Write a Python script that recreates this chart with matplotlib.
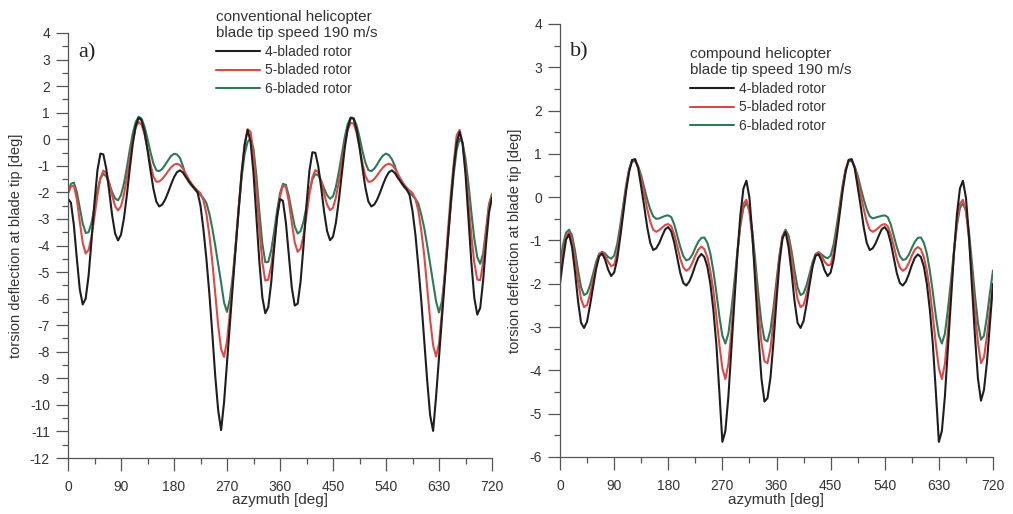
import numpy as np
import matplotlib
matplotlib.use("Agg")
import matplotlib.pyplot as plt
from matplotlib.ticker import MultipleLocator

plt.rcParams['font.family'] = ['Liberation Sans', 'DejaVu Sans']
plt.rcParams['axes.unicode_minus'] = False

# ---------------- data ----------------
azimuth = np.arange(0, 721, 5)          # deg, 0..720 step 5
rotor_labels = ["4-bladed rotor", "5-bladed rotor", "6-bladed rotor"]
panel_titles = ["conventional helicopter\nblade tip speed 190 m/s",
                "compound helicopter\nblade tip speed 190 m/s"]
panel_tags = ["a)", "b)"]
x_ticks = list(range(0, 721, 90))
y_ticks_a = list(range(-12, 5))
y_ticks_b = list(range(-6, 5))
x_label = "azymuth [deg]"
y_label = "torsion deflection at blade tip [deg]"

# a) conventional helicopter
conv_4 = [
    -2.24, -2.39, -3.24, -4.49, -5.65, -6.22, -6.0, -5.13, -3.79, -2.36,
    -1.17, -0.54, -0.57, -1.11, -1.96, -2.87, -3.55, -3.81, -3.59, -2.98,
    -2.09, -1.09, -0.17, 0.51, 0.81, 0.71, 0.27, -0.40, -1.16, -1.86,
    -2.35, -2.53, -2.46, -2.27, -2.0, -1.70, -1.43, -1.24, -1.17, -1.25,
    -1.42, -1.58, -1.72, -1.85, -2.0, -2.5, -3.4, -4.5, -5.8, -7.3,
    -8.9, -10.2, -10.95, -9.9, -8.4, -6.9, -5.45, -4.0, -2.6, -1.25,
    -0.2, 0.35, -0.09, -1.28, -2.94, -4.63, -5.95, -6.55, -6.33, -5.41,
    -4.12, -2.93, -2.25, -2.32, -3.14, -4.38, -5.58, -6.26, -6.19, -5.35,
    -3.99, -2.46, -1.18, -0.49, -0.51, -1.02, -1.84, -2.74, -3.46, -3.80,
    -3.67, -3.13, -2.28, -1.29, -0.32, 0.42, 0.80, 0.77, 0.37, -0.29,
    -1.08, -1.82, -2.34, -2.53, -2.46, -2.27, -2.0, -1.70, -1.43, -1.24,
    -1.17, -1.27, -1.45, -1.6, -1.75, -1.88, -2.1, -2.7, -3.6, -4.8,
    -6.1, -7.6, -9.1, -10.4, -10.98, -9.7, -8.2, -6.7, -5.25, -3.8,
    -2.4, -1.1, -0.15, 0.28, -0.15, -1.3, -2.95, -4.65, -5.98, -6.6,
    -6.35, -5.3, -3.91, -2.75, -2.2]
conv_5 = [
    -2.05, -1.78, -1.75, -2.25, -3.1, -3.9, -4.3, -4.17, -3.66, -2.90,
    -2.1, -1.47, -1.18, -1.27, -1.64, -2.12, -2.52, -2.68, -2.52, -2.08,
    -1.44, -0.73, -0.06, 0.43, 0.65, 0.55, 0.18, -0.36, -0.94, -1.40,
    -1.6, -1.59, -1.5, -1.36, -1.2, -1.06, -0.96, -0.92, -0.97, -1.1,
    -1.3, -1.5, -1.68, -1.82, -1.93, -2.03, -2.3, -2.8, -3.6, -4.6,
    -5.8, -7.0, -7.9, -8.19, -7.6, -6.5, -5.3, -3.9, -2.5, -1.2,
    -0.2, 0.38, 0.28, -0.54, -1.88, -3.38, -4.64, -5.32, -5.29, -4.77,
    -3.92, -2.97, -2.17, -1.74, -1.8, -2.34, -3.14, -3.88, -4.24, -4.12,
    -3.61, -2.86, -2.07, -1.44, -1.16, -1.24, -1.59, -2.06, -2.47, -2.67,
    -2.58, -2.19, -1.58, -0.87, -0.18, 0.35, 0.62, 0.59, 0.25, -0.30,
    -0.90, -1.38, -1.6, -1.59, -1.5, -1.36, -1.2, -1.06, -0.96, -0.92,
    -0.97, -1.1, -1.3, -1.5, -1.68, -1.82, -1.93, -2.02, -2.25, -2.7,
    -3.45, -4.4, -5.6, -6.8, -7.75, -8.18, -7.7, -6.5, -5.0, -3.5,
    -2.1, -0.9, 0.15, 0.35, -0.15, -1.12, -2.36, -3.63, -4.66, -5.28,
    -5.31, -4.63, -3.51, -2.5, -2.1]
conv_6 = [
    -2.0, -1.68, -1.63, -1.99, -2.58, -3.17, -3.53, -3.5, -3.14, -2.56,
    -1.94, -1.47, -1.3, -1.4, -1.67, -1.99, -2.23, -2.3, -2.1, -1.67,
    -1.06, -0.39, 0.22, 0.65, 0.85, 0.77, 0.47, 0.02, -0.48, -0.91,
    -1.17, -1.2, -1.12, -0.96, -0.79, -0.63, -0.55, -0.57, -0.7, -1.0,
    -1.38, -1.6, -1.75, -1.88, -2.0, -2.1, -2.22, -2.4, -2.8, -3.35,
    -4.0, -4.7, -5.4, -6.15, -6.5, -6.0, -5.1, -3.9, -2.6, -1.4,
    -0.55, -0.1, 0.03, -0.36, -1.39, -2.74, -3.93, -4.63, -4.62, -4.19,
    -3.49, -2.7, -2.04, -1.68, -1.72, -2.13, -2.73, -3.28, -3.55, -3.46,
    -3.09, -2.55, -1.97, -1.51, -1.31, -1.36, -1.57, -1.86, -2.11, -2.24,
    -2.15, -1.79, -1.22, -0.56, 0.08, 0.57, 0.82, 0.8, 0.53, 0.08,
    -0.44, -0.88, -1.16, -1.2, -1.11, -0.95, -0.76, -0.61, -0.54, -0.6,
    -0.75, -1.0, -1.35, -1.6, -1.78, -1.9, -2.02, -2.12, -2.25, -2.43,
    -2.85, -3.35, -4.0, -4.7, -5.4, -6.1, -6.52, -6.1, -5.1, -3.8,
    -2.5, -1.3, -0.4, 0.02, -0.13, -0.74, -1.68, -2.76, -3.75, -4.44,
    -4.69, -4.3, -3.37, -2.44, -2.05]

# b) compound helicopter
comp_4 = [
    -2.0, -1.45, -0.98, -0.86, -1.15, -1.73, -2.4, -2.9, -3.02, -2.87,
    -2.49, -2.07, -1.66, -1.37, -1.3, -1.44, -1.67, -1.82, -1.74, -1.44,
    -0.94, -0.4, 0.15, 0.59, 0.86, 0.88, 0.67, 0.24, -0.21, -0.69,
    -1.05, -1.22, -1.18, -1.06, -0.89, -0.74, -0.69, -0.79, -1.05, -1.4,
    -1.75, -1.98, -2.04, -1.95, -1.78, -1.57, -1.40, -1.31, -1.38, -1.6,
    -2.0, -2.6, -3.4, -4.5, -5.65, -5.4, -4.6, -3.5, -2.4, -1.3,
    -0.4, 0.2, 0.38, -0.01, -0.89, -2.05, -3.21, -4.19, -4.72, -4.64,
    -4.16, -3.34, -2.38, -1.5, -0.95, -0.8, -1.15, -1.73, -2.4, -2.9,
    -3.02, -2.86, -2.47, -2.02, -1.6, -1.35, -1.32, -1.47, -1.69, -1.82,
    -1.74, -1.44, -0.94, -0.4, 0.15, 0.59, 0.86, 0.88, 0.67, 0.24,
    -0.21, -0.69, -1.05, -1.22, -1.18, -1.06, -0.89, -0.74, -0.69, -0.79,
    -1.05, -1.4, -1.75, -1.98, -2.04, -1.95, -1.78, -1.57, -1.40, -1.32,
    -1.38, -1.6, -2.0, -2.6, -3.4, -4.5, -5.65, -5.4, -4.6, -3.5,
    -2.4, -1.3, -0.4, 0.2, 0.38, -0.01, -0.89, -2.05, -3.21, -4.19,
    -4.7, -4.45, -3.8, -2.9, -2.0]
comp_5 = [
    -1.8, -1.3, -0.92, -0.8, -1.0, -1.42, -1.93, -2.35, -2.54, -2.49,
    -2.24, -1.91, -1.58, -1.33, -1.27, -1.35, -1.49, -1.59, -1.56, -1.29,
    -0.83, -0.31, 0.23, 0.64, 0.86, 0.85, 0.69, 0.42, 0.08, -0.27,
    -0.56, -0.75, -0.8, -0.76, -0.7, -0.64, -0.62, -0.67, -0.86, -1.13,
    -1.42, -1.62, -1.7, -1.65, -1.52, -1.35, -1.21, -1.14, -1.2, -1.38,
    -1.7, -2.15, -2.75, -3.4, -3.95, -4.2, -3.85, -3.1, -2.2, -1.3,
    -0.6, -0.15, -0.06, -0.33, -0.96, -1.78, -2.65, -3.36, -3.79, -3.83,
    -3.49, -2.86, -2.09, -1.39, -0.9, -0.78, -1.0, -1.42, -1.93, -2.35,
    -2.54, -2.49, -2.24, -1.91, -1.58, -1.33, -1.28, -1.36, -1.49, -1.57,
    -1.56, -1.29, -0.83, -0.31, 0.23, 0.64, 0.86, 0.86, 0.69, 0.42,
    0.08, -0.27, -0.56, -0.75, -0.8, -0.76, -0.7, -0.64, -0.62, -0.67,
    -0.86, -1.13, -1.42, -1.62, -1.7, -1.65, -1.52, -1.35, -1.21, -1.15,
    -1.2, -1.38, -1.7, -2.15, -2.75, -3.4, -3.95, -4.2, -3.85, -3.1,
    -2.2, -1.3, -0.6, -0.15, -0.06, -0.33, -0.96, -1.78, -2.65, -3.36,
    -3.83, -3.7, -3.2, -2.6, -2.0]
comp_6 = [
    -1.55, -1.1, -0.82, -0.75, -0.88, -1.24, -1.69, -2.08, -2.26, -2.22,
    -2.03, -1.77, -1.5, -1.31, -1.26, -1.3, -1.38, -1.42, -1.35, -1.09,
    -0.67, -0.19, 0.28, 0.65, 0.83, 0.83, 0.71, 0.5, 0.23, -0.05,
    -0.28, -0.44, -0.5, -0.49, -0.46, -0.43, -0.42, -0.46, -0.63, -0.89,
    -1.15, -1.36, -1.46, -1.43, -1.33, -1.17, -1.03, -0.94, -0.93, -1.05,
    -1.3, -1.7, -2.2, -2.75, -3.2, -3.38, -3.15, -2.6, -1.95, -1.25,
    -0.65, -0.25, -0.13, -0.31, -0.81, -1.51, -2.27, -2.9, -3.29, -3.33,
    -3.06, -2.55, -1.92, -1.33, -0.9, -0.75, -0.88, -1.24, -1.69, -2.08,
    -2.26, -2.22, -2.03, -1.77, -1.5, -1.31, -1.27, -1.32, -1.38, -1.41,
    -1.35, -1.09, -0.67, -0.19, 0.28, 0.65, 0.83, 0.84, 0.71, 0.5,
    0.23, -0.05, -0.28, -0.44, -0.49, -0.47, -0.45, -0.43, -0.42, -0.46,
    -0.63, -0.89, -1.15, -1.36, -1.45, -1.43, -1.33, -1.17, -1.03, -0.94,
    -0.93, -1.05, -1.3, -1.7, -2.2, -2.75, -3.2, -3.38, -3.15, -2.6,
    -1.95, -1.25, -0.65, -0.25, -0.14, -0.31, -0.81, -1.51, -2.27, -2.9,
    -3.29, -3.2, -2.75, -2.2, -1.69]

# ---------------- style ----------------
line_colors = ['#1e1e1e', '#dc4a48', '#2d7a58']
text_color = '#333333'
axis_color = '#555555'

W, H = 1013, 514
fig = plt.figure(figsize=(W / 100, H / 100), dpi=100)


def px_rect(l, t, r, b):
    return [l / W, 1 - b / H, (r - l) / W, (b - t) / H]


ax_a = fig.add_axes(px_rect(68, 33, 492, 458))
ax_b = fig.add_axes(px_rect(560, 24, 993, 457))

panels = [
    (ax_a, [conv_4, conv_5, conv_6], (-12, 4), y_ticks_a,
     (216, 10), (78, 53)),
    (ax_b, [comp_4, comp_5, comp_6], (-6, 4), y_ticks_b,
     (690, 47), (570, 52)),
]

for i, (ax, series, ylim, yticks, leg_xy, tag_xy) in enumerate(panels):
    handles = [None, None, None]
    for k in (2, 1, 0):
        handles[k], = ax.plot(azimuth, series[k], color=line_colors[k],
                              lw=1.5, label=rotor_labels[k],
                              solid_joinstyle='round', solid_capstyle='round',
                              zorder=2 + (2 - k) * 0.1)
    ax.set_xlim(0, 720)
    ax.set_ylim(*ylim)
    for s in ('top', 'right'):
        ax.spines[s].set_visible(False)
    for s in ('left', 'bottom'):
        ax.spines[s].set_color(axis_color)
        ax.spines[s].set_linewidth(0.9)
    ax.set_xticks(x_ticks)
    ax.xaxis.set_minor_locator(MultipleLocator(45))
    ax.set_yticks(yticks)
    ax.yaxis.set_minor_locator(MultipleLocator(0.5))
    ax.tick_params(which='major', direction='out', length=9, width=0.9,
                   color=axis_color, labelsize=10, labelcolor=text_color)
    ax.tick_params(which='minor', direction='out', length=4.5, width=0.9,
                   color=axis_color)
    ax.xaxis.set_tick_params(which='major', pad=7)
    ax.yaxis.set_tick_params(which='major', pad=4)
    ax.set_xlabel(x_label, fontsize=11, color=text_color)
    ax.set_ylabel(y_label, fontsize=10.5, color=text_color)
    bottom_px = 458 if i == 0 else 457
    left_px = 68 if i == 0 else 560
    ax_h = 425 if i == 0 else 433
    ax_w = 424 if i == 0 else 433
    ax.xaxis.set_label_coords(0.5, -(493 - bottom_px) / ax_h)
    ylab_right = 23 if i == 0 else 522
    ax.yaxis.set_label_coords((ylab_right - left_px) / ax_w, 0.5)

    leg = ax.legend(handles=handles, title=panel_titles[i], loc='upper left',
                    bbox_to_anchor=(leg_xy[0] / W, 1 - leg_xy[1] / H),
                    bbox_transform=fig.transFigure, frameon=False,
                    fontsize=10, title_fontsize=11, alignment='left',
                    handlelength=3.2, handletextpad=0.35, labelspacing=0.35,
                    borderpad=0, borderaxespad=0)
    leg.get_title().set_linespacing(1.15)
    leg.get_title().set_color(text_color)
    for t in leg.get_texts():
        t.set_color(text_color)

    fig.text(tag_xy[0] / W, 1 - tag_xy[1] / H, panel_tags[i],
             family=['Liberation Serif', 'DejaVu Serif'], fontsize=16,
             va='center', ha='left', color='#222222')

fig.savefig('out.png', dpi=100)
